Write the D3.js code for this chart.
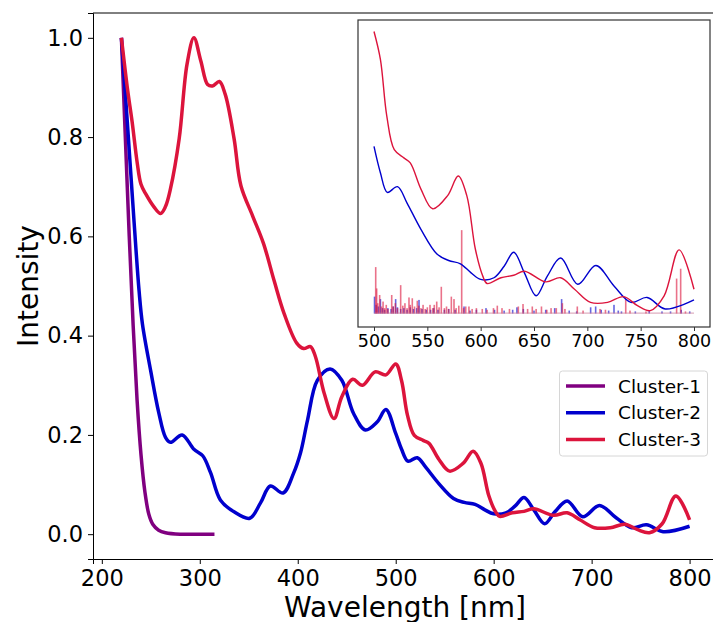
<!DOCTYPE html>
<html lang="en">
<head>
    <meta charset="UTF-8"/>
    <title>Cluster spectra</title>
    <script src="https://d3js.org/d3.v7.min.js"></script>
    <style>
        body { margin: 0; background: #fff; }
        text { font-family: "DejaVu Sans", sans-serif; fill: #000; }
    </style>
</head>
<body>
<script>
    var w = 713;
    var h = 622;

    // series: wavelength [nm] and intensity
    var c1X = [220, 224, 228, 232, 236, 240, 244, 248, 252, 258, 265, 280, 300, 315];
    var c1Y = [1.0, 0.80, 0.60, 0.42, 0.27, 0.16, 0.085, 0.04, 0.02, 0.008, 0.003, 0.0, 0.0, 0.0];

    var c2X = [220, 226, 233, 238, 241.5, 250, 258, 265, 270, 282, 294, 303, 311, 321, 335, 351, 362, 372, 385, 396, 403, 410, 420, 433, 445, 457, 469, 481, 490, 500, 506, 512.5, 522, 531, 544, 559, 570, 581, 591, 600, 612.5, 622, 631, 641, 652, 662.5, 675, 691, 708, 725, 741, 756, 773, 800];
    var c2Y = [1.0, 0.831, 0.627, 0.491, 0.423, 0.328, 0.246, 0.195, 0.185, 0.20, 0.171, 0.158, 0.124, 0.069, 0.045, 0.032, 0.063, 0.097, 0.083, 0.124, 0.165, 0.23, 0.31, 0.333, 0.31, 0.243, 0.21, 0.226, 0.251, 0.203, 0.171, 0.147, 0.154, 0.134, 0.102, 0.072, 0.064, 0.060, 0.049, 0.041, 0.043, 0.057, 0.074, 0.049, 0.021, 0.045, 0.067, 0.035, 0.058, 0.033, 0.013, 0.019, 0.005, 0.016];

    var c3X = [220, 226, 231, 236, 240, 245, 253, 260, 265, 270, 279, 287, 294, 301, 308, 313, 320, 326, 335, 342, 354, 365, 376, 386, 399, 406, 413, 418, 427, 437, 445, 456, 466, 479, 490, 500, 506, 512, 519, 528, 534, 544, 555, 569, 579, 587, 595, 602, 606, 619, 631, 641, 661, 675, 688, 703, 719, 734, 747, 759, 772, 786, 800];
    var c3Y = [1.0, 0.90, 0.83, 0.75, 0.705, 0.685, 0.66, 0.646, 0.66, 0.695, 0.797, 0.947, 1.0, 0.954, 0.906, 0.903, 0.912, 0.886, 0.797, 0.702, 0.641, 0.586, 0.51, 0.445, 0.385, 0.374, 0.378, 0.358, 0.284, 0.233, 0.277, 0.312, 0.30, 0.327, 0.321, 0.343, 0.309, 0.24, 0.199, 0.189, 0.183, 0.151, 0.127, 0.143, 0.167, 0.143, 0.078, 0.045, 0.036, 0.043, 0.046, 0.051, 0.038, 0.043, 0.029, 0.013, 0.013, 0.020, 0.009, 0.003, 0.021, 0.077, 0.029];

    // stick spectra shown in the inset
    var stick2X = [500.5, 502, 504, 506, 508, 510, 513, 516, 518, 520.3, 522, 525, 528, 531, 534, 537, 540, 542.2, 545, 549, 553, 556, 560, 566, 570, 576, 584.4, 590, 596, 605, 613, 622, 630, 634, 640, 650, 661, 669.4, 675.9, 683, 690, 703.1, 707.8, 713, 720, 725, 729, 732, 745, 758, 770, 778, 788, 796];
    var stick2Y = [0.020, 0.010, 0.008, 0.017, 0.006, 0.004, 0.006, 0.005, 0.008, 0.017, 0.007, 0.005, 0.006, 0.004, 0.007, 0.005, 0.006, 0.016, 0.005, 0.004, 0.004, 0.006, 0.004, 0.004, 0.005, 0.004, 0.008, 0.003, 0.004, 0.006, 0.004, 0.003, 0.004, 0.007, 0.005, 0.003, 0.004, 0.006, 0.017, 0.003, 0.002, 0.007, 0.008, 0.004, 0.003, 0.010, 0.003, 0.002, 0.002, 0.003, 0.002, 0.002, 0.004, 0.002];
    var stick3X = [501.6, 502.5, 503.5, 505.3, 507, 508.5, 510, 511.5, 513, 516.6, 518, 520, 522, 525, 527, 529, 531, 532.8, 534, 535.9, 538, 540.6, 542, 544, 546, 548, 550, 552.5, 555, 556.5, 558.8, 561, 563.1, 566, 568, 570, 572.5, 575, 577, 579.5, 582.2, 584, 586, 589, 592, 596, 601.5, 606, 612, 615.6, 620, 627, 635.3, 639.7, 644, 648.4, 652, 657, 662, 666, 670.9, 676.6, 679, 690.6, 696, 711.9, 717, 736, 740, 755, 783.7, 787.5, 792];
    var stick3Y = [0.056, 0.030, 0.012, 0.022, 0.008, 0.014, 0.006, 0.010, 0.005, 0.022, 0.008, 0.012, 0.006, 0.034, 0.009, 0.012, 0.006, 0.019, 0.010, 0.018, 0.008, 0.015, 0.009, 0.006, 0.010, 0.005, 0.007, 0.010, 0.006, 0.010, 0.014, 0.007, 0.032, 0.006, 0.008, 0.005, 0.020, 0.017, 0.006, 0.009, 0.101, 0.006, 0.008, 0.008, 0.005, 0.006, 0.005, 0.004, 0.006, 0.009, 0.006, 0.005, 0.008, 0.011, 0.005, 0.008, 0.005, 0.008, 0.004, 0.006, 0.006, 0.012, 0.005, 0.008, 0.003, 0.005, 0.004, 0.017, 0.003, 0.002, 0.042, 0.054, 0.002];

    var names = ["Cluster-1", "Cluster-2", "Cluster-3"];
    var colors = ["purple", "mediumblue", "crimson"];
    var xTicks = [200, 300, 400, 500, 600, 700, 800];
    var yTicks = [0.0, 0.2, 0.4, 0.6, 0.8, 1.0];
    var insetTicks = [500, 550, 600, 650, 700, 750, 800];

    function zip(xs, ys) { return xs.map(function (x, i) { return [x, ys[i]]; }); }
    var series = [zip(c1X, c1Y), zip(c2X, c2Y), zip(c3X, c3Y)];

    var svg = d3.select("body").append("svg")
        .attr("width", w)
        .attr("height", h);

    // main axes
    var xScale = d3.scaleLinear().domain([191, 829]).range([93, 718]);
    var yScale = d3.scaleLinear().domain([-0.05, 1.05]).range([559, 13]);

    var line = d3.line()
        .x(function (d) { return xScale(d[0]); })
        .y(function (d) { return yScale(d[1]); })
        .curve(d3.curveCatmullRom.alpha(0.5));

    svg.selectAll("path.main")
        .data(series)
        .enter().append("path")
        .attr("class", "main")
        .attr("d", line)
        .attr("fill", "none")
        .attr("stroke", function (d, i) { return colors[i]; })
        .attr("stroke-width", 3.5)
        .attr("stroke-linejoin", "round")
        .attr("stroke-linecap", "butt");

    var xAxis = svg.append("g")
        .attr("transform", "translate(0,559)")
        .call(d3.axisBottom(xScale).tickValues(xTicks).tickFormat(d3.format("d")).tickSize(5).tickPadding(5));
    var yAxis = svg.append("g")
        .attr("transform", "translate(93,0)")
        .call(d3.axisLeft(yScale).tickValues(yTicks).tickFormat(d3.format(".1f")).tickSize(5).tickPadding(5));
    [xAxis, yAxis].forEach(function (a) {
        a.selectAll("text").style("font-size", "22.5px").attr("fill", "#000");
        a.selectAll("line").attr("stroke", "#000");
        a.select(".domain").attr("stroke", "#000");
    });
    xAxis.selectAll("text").attr("dy", "0.76em");

    svg.append("line")
        .attr("x1", 93).attr("x2", 718).attr("y1", 13).attr("y2", 13)
        .attr("stroke", "#000");

    svg.append("text")
        .attr("x", 405).attr("y", 617)
        .attr("text-anchor", "middle")
        .style("font-size", "28px")
        .text("Wavelength [nm]");
    svg.append("text")
        .attr("transform", "translate(38,286) rotate(-90)")
        .attr("text-anchor", "middle")
        .style("font-size", "28px")
        .text("Intensity");

    // legend
    var legend = svg.append("g");
    legend.append("rect")
        .attr("x", 559.5).attr("y", 371).attr("width", 148).attr("height", 85)
        .attr("rx", 3)
        .attr("fill", "#fff").attr("fill-opacity", 0.8)
        .attr("stroke", "#d6d6d6");
    names.forEach(function (n, i) {
        var yy = 386 + i * 26.7;
        legend.append("line")
            .attr("x1", 566).attr("x2", 605).attr("y1", yy).attr("y2", yy)
            .attr("stroke", colors[i]).attr("stroke-width", 3.5);
        legend.append("text")
            .attr("x", 618).attr("y", yy)
            .attr("dy", "0.36em")
            .style("font-size", "18.5px")
            .text(n);
    });

    // inset
    var ix = d3.scaleLinear().domain([485, 815]).range([358, 710]);
    var iy = d3.scaleLinear().domain([-0.017, 0.357]).range([327, 20]);

    var inset = svg.append("g");
    inset.append("rect")
        .attr("x", 358).attr("y", 20).attr("width", 352).attr("height", 307)
        .attr("fill", "#fff");

    inset.append("clipPath").attr("id", "insetClip")
        .append("rect").attr("x", 358).attr("y", 20).attr("width", 352).attr("height", 307);
    var ig = inset.append("g").attr("clip-path", "url(#insetClip)");

    var sticks = [[zip(stick2X, stick2Y), colors[1]], [zip(stick3X, stick3Y), colors[2]]];
    sticks.forEach(function (s) {
        ig.selectAll(null)
            .data(s[0])
            .enter().append("rect")
            .attr("x", function (d) { return ix(d[0]) - 0.8; })
            .attr("y", function (d) { return iy(d[1]); })
            .attr("width", 1.6)
            .attr("height", function (d) { return iy(0) - iy(d[1]) + 0.5; })
            .attr("fill", s[1])
            .attr("fill-opacity", 0.6);
    });
    // faint baseline of the stick spectra
    ig.append("line")
        .attr("x1", ix(500)).attr("x2", ix(800)).attr("y1", iy(0)).attr("y2", iy(0))
        .attr("stroke", "#c87896").attr("stroke-width", 1.2).attr("stroke-opacity", 0.6);

    var iline = d3.line()
        .x(function (d) { return ix(d[0]); })
        .y(function (d) { return iy(d[1]); })
        .curve(d3.curveCatmullRom.alpha(0.5));

    [1, 2].forEach(function (k) {
        ig.append("path")
            .datum(series[k].filter(function (d) { return d[0] >= 500; }))
            .attr("d", iline)
            .attr("fill", "none")
            .attr("stroke", colors[k])
            .attr("stroke-width", 1.4);
    });

    inset.append("rect")
        .attr("x", 358).attr("y", 20).attr("width", 352).attr("height", 307)
        .attr("fill", "none").attr("stroke", "#333").attr("stroke-width", 1.2);

    var iAxis = inset.append("g")
        .attr("transform", "translate(0,327)")
        .call(d3.axisBottom(ix).tickValues(insetTicks).tickFormat(d3.format("d")).tickSize(4).tickPadding(3));
    iAxis.select(".domain").remove();
    iAxis.selectAll("line").attr("stroke", "#333");
    iAxis.selectAll("text").style("font-size", "17.5px").attr("fill", "#000").attr("dy", "0.76em");
</script>
</body>
</html>
